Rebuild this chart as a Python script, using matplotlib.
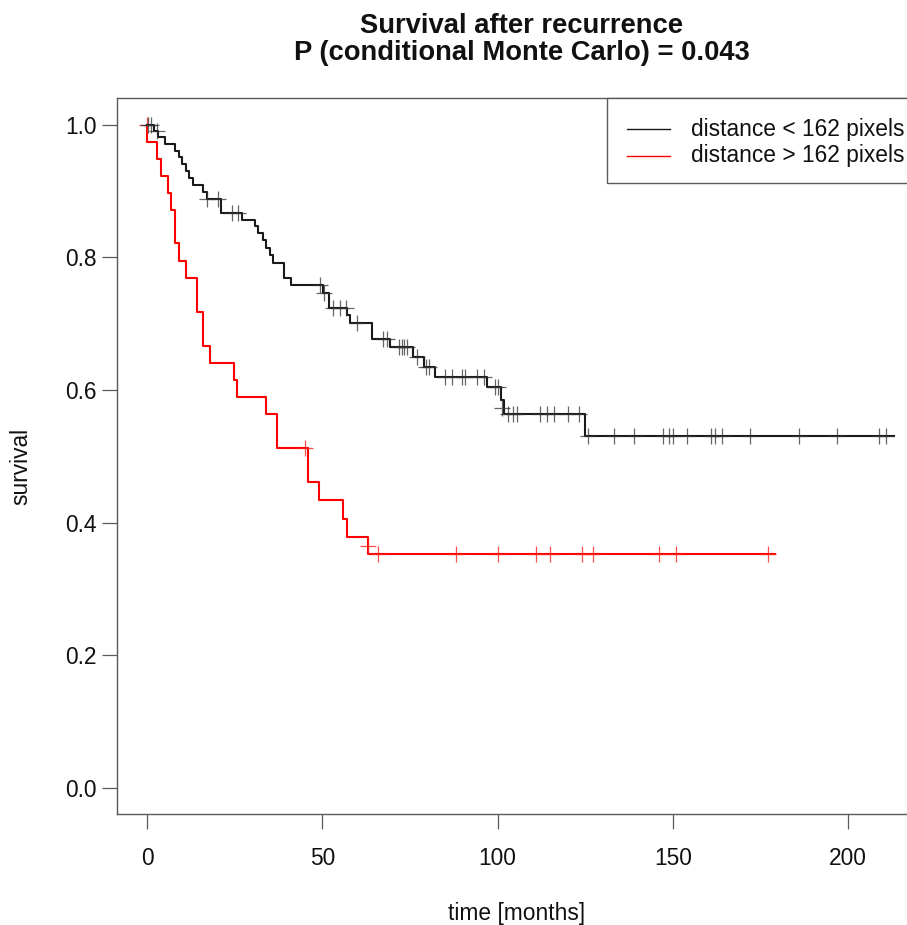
import matplotlib
matplotlib.use("Agg")
import matplotlib.pyplot as plt
from matplotlib.lines import Line2D
from matplotlib.patches import Rectangle

W, H = 907, 925
FONT = "Liberation Sans"
BASE = 16.4

title_lines = ["Survival after recurrence", "P (conditional Monte Carlo) = 0.043"]
x_label = "time [months]"
y_label = "survival"
legend_labels = ["distance < 162 pixels", "distance > 162 pixels"]
x_ticks = [0, 50, 100, 150, 200]
y_ticks = [0.0, 0.2, 0.4, 0.6, 0.8, 1.0]
y_tick_labels = ["0.0", "0.2", "0.4", "0.6", "0.8", "1.0"]

# group 1: distance < 162 pixels (black)
near_event_times = [2.0, 3.0, 5.0, 8.1, 9.0, 10.0, 11.1, 12.0, 13.0, 16.0, 17.0, 21.0,
                    27.1, 30.8, 31.7, 33.0, 34.0, 35.0, 36.0, 39.0, 41.0, 50.1, 52.0,
                    57.0, 57.9, 64.1, 69.3, 76.0, 78.9, 82.0, 97.1, 100.9, 101.9, 125.0]
near_surv = [0.990, 0.981, 0.971, 0.961, 0.951, 0.941, 0.931, 0.920, 0.909, 0.899, 0.888, 0.867,
             0.857, 0.847, 0.837, 0.826, 0.814, 0.803, 0.791, 0.769, 0.758, 0.746, 0.724,
             0.713, 0.701, 0.677, 0.665, 0.650, 0.635, 0.620, 0.604, 0.585, 0.564, 0.531]
near_end = 213.0
near_censor_times = [0.3, 1.2, 2.9, 17.2, 20.3, 24.1, 26.0, 49.2, 50.6, 53.0, 54.9, 56.8,
                     59.8, 67.2, 68.4, 71.9, 72.7, 73.4, 74.1, 76.9, 79.6, 80.4, 85.0, 86.9,
                     89.8, 90.7, 94.1, 96.0, 99.3, 100.2, 101.2, 103.1, 104.5, 105.6, 112.1,
                     114.0, 116.1, 120.2, 123.1, 125.9, 133.1, 138.9, 147.1, 148.9, 150.0,
                     154.0, 160.9, 161.9, 164.0, 172.0, 185.9, 196.9, 208.9, 210.8]
near_censor_surv = [1.0, 1.0, 0.990, 0.888, 0.888, 0.867, 0.867, 0.758, 0.746, 0.724, 0.724, 0.724,
                    0.701, 0.677, 0.677, 0.665, 0.665, 0.665, 0.665, 0.650, 0.635, 0.635, 0.620, 0.620,
                    0.620, 0.620, 0.620, 0.620, 0.604, 0.604, 0.573, 0.564, 0.564, 0.564, 0.564,
                    0.564, 0.564, 0.564, 0.564, 0.531, 0.531, 0.531, 0.531, 0.531, 0.531,
                    0.531, 0.531, 0.531, 0.531, 0.531, 0.531, 0.531, 0.531, 0.531]

# group 2: distance > 162 pixels (red)
far_event_times = [0.1, 2.9, 3.9, 6.0, 6.9, 8.1, 9.0, 11.1, 14.1, 16.0, 17.9, 24.9, 25.7,
                   33.9, 37.0, 45.9, 49.1, 56.0, 57.0, 63.1]
far_surv = [0.974, 0.949, 0.923, 0.897, 0.872, 0.821, 0.795, 0.769, 0.718, 0.667, 0.641, 0.615,
            0.590, 0.564, 0.513, 0.461, 0.434, 0.406, 0.379, 0.352]
far_end = 179.2
far_censor_times = [0.0, 45.1, 63.1, 66.0, 88.0, 100.0, 110.9, 114.9, 124.0, 127.1, 146.0,
                    150.9, 177.0]
far_censor_surv = [1.0, 0.513, 0.365, 0.352, 0.352, 0.352, 0.352, 0.352, 0.352, 0.352, 0.352,
                   0.352, 0.352]


def fx(px):
    return px / W


def fy(py):
    return 1 - py / H


fig = plt.figure(figsize=(W / 100, H / 100), dpi=100)
ax_left, ax_right, ax_top, ax_bottom = 117.3, 923.5, 98.3, 814.3
ax = fig.add_axes([fx(ax_left), fy(ax_bottom), (ax_right - ax_left) / W, (ax_bottom - ax_top) / H])
ax.set_xlim(-8.5, 221.5)
ax.set_ylim(-0.04, 1.04)

spine_col = "#5a5a5a"
for s in ax.spines.values():
    s.set_color(spine_col)
    s.set_linewidth(1.0)

ax.set_xticks(x_ticks)
ax.set_xticklabels([str(v) for v in x_ticks])
ax.set_yticks(y_ticks)
ax.set_yticklabels(y_tick_labels)
ax.tick_params(axis="both", length=10.8, width=0.9, color=spine_col, labelsize=BASE,
               labelcolor="#111111")
ax.tick_params(axis="x", pad=12.5)
ax.tick_params(axis="y", pad=4)
for lab in ax.get_xticklabels() + ax.get_yticklabels():
    lab.set_fontfamily(FONT)


def step_xy(times, surv, end):
    xs = [0.0] + list(times) + [end]
    ys = [1.0] + list(surv) + [surv[-1]]
    return xs, ys


xs, ys = step_xy(near_event_times, near_surv, near_end)
ax.step(xs, ys, where="post", color="#1a1a1a", lw=1.5, zorder=3)
ax.plot(near_censor_times, near_censor_surv, linestyle="none", marker="+", ms=11,
        mew=0.9, color="#333333", alpha=0.75, zorder=4)

xs, ys = step_xy(far_event_times, far_surv, far_end)
ax.step(xs, ys, where="post", color="#ff0000", lw=1.5, zorder=2)
ax.plot(far_censor_times, far_censor_surv, linestyle="none", marker="+", ms=11,
        mew=0.9, color="#ff2020", alpha=0.8, zorder=2)

# title
fig.text(fx(522), fy(32.7), title_lines[0], ha="center", va="baseline", fontsize=19.7,
         fontweight="bold", family=FONT, color="#111111")
fig.text(fx(522), fy(60.5), title_lines[1], ha="center", va="baseline", fontsize=19.7,
         fontweight="bold", family=FONT, color="#111111")

# axis labels
fig.text(fx(517), fy(920), x_label, ha="center", va="baseline", fontsize=BASE,
         family=FONT, color="#111111")
fig.text(fx(21), fy(466), y_label, ha="center", va="center", rotation=90, fontsize=BASE,
         family=FONT, color="#111111")

# legend (top right of the plot region)
fig.add_artist(Rectangle((fx(607.3), fy(183.3)), (ax_right - 607.3) / W, (183.3 - ax_top) / H,
                         transform=fig.transFigure, fill=True, facecolor="white",
                         edgecolor=spine_col, lw=1.0, zorder=5))
leg_colors = ["#1a1a1a", "#ff0000"]
for i, (lab, c) in enumerate(zip(legend_labels, leg_colors)):
    yy = 129.3 + i * 26.4
    fig.add_artist(Line2D([fx(627.3), fx(670)], [fy(yy), fy(yy)], transform=fig.transFigure,
                          color=c, lw=1.0, zorder=6))
    fig.text(fx(690.7), fy(yy), lab, ha="left", va="center", fontsize=BASE, family=FONT,
             color="#111111", zorder=6)

fig.savefig("out.png", dpi=100)
